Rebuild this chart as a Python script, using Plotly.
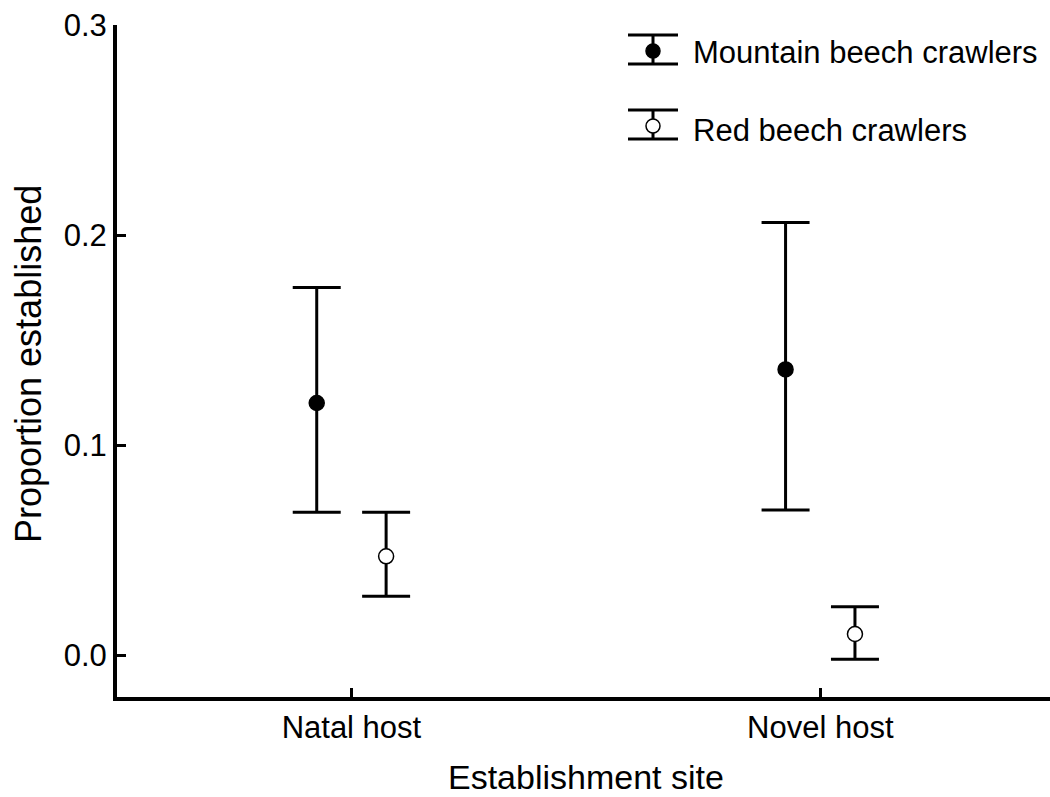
import plotly.graph_objects as go

# ---- data ----
sites = ["Natal host", "Novel host"]
mountain_mean = [0.120, 0.136]
mountain_upper = [0.175, 0.206]
mountain_lower = [0.068, 0.069]
red_mean = [0.047, 0.010]
red_upper = [0.068, 0.023]
red_lower = [0.028, -0.002]
series_names = ["Mountain beech crawlers", "Red beech crawlers"]
y_ticks = [0.0, 0.1, 0.2, 0.3]
x_title = "Establishment site"
y_title = "Proportion established"

FONT = "Arial, 'Liberation Sans', sans-serif"
OFFSET = 0.074
pos = list(range(len(sites)))

# plot-area geometry in pixels
W, H = 1050, 797
ML, MR, MT, MB = 117, 0, 25, 100
PW, PH = W - ML - MR, H - MT - MB

fig = go.Figure()

def add_series(mean, upper, lower, dx, fill, name):
    fig.add_trace(go.Scatter(
        x=[p + dx for p in pos], y=mean, mode="markers", name=name,
        marker=dict(size=15, color=fill, line=dict(color="black", width=1.5)),
        error_y=dict(type="data", symmetric=False,
                     array=[u - m for u, m in zip(upper, mean)],
                     arrayminus=[m - l for m, l in zip(mean, lower)],
                     color="black", thickness=3, width=24),
        showlegend=False,
    ))

add_series(mountain_mean, mountain_upper, mountain_lower, -OFFSET, "black", series_names[0])
add_series(red_mean, red_upper, red_lower, OFFSET, "white", series_names[1])

# ---- custom legend drawn on an overlay axis in pixel units ----
leg_x = 536
leg_items = [
    (series_names[0], "black", 26, 13, 16, 27),
    (series_names[1], "white", 101, 13, 16, 105),
]
for name, fill, yc, eplus, eminus, ty in leg_items:
    fig.add_trace(go.Scatter(
        x=[leg_x], y=[yc], mode="markers", xaxis="x2", yaxis="y2",
        marker=dict(size=14, color=fill, line=dict(color="black", width=1.5)),
        error_y=dict(type="data", symmetric=False, array=[eplus], arrayminus=[eminus],
                     color="black", thickness=3, width=25),
        showlegend=False, hoverinfo="skip",
    ))
    fig.add_annotation(x=leg_x + 38, y=ty, xref="x2", yref="y2", text=name,
                       showarrow=False, xanchor="left", yanchor="middle",
                       font=dict(family=FONT, size=31, color="black"))

# axis titles placed by pixel position
fig.add_annotation(x=(586 - ML) / PW, y=(H - MB - 777) / PH, xref="paper", yref="paper",
                   text=x_title, showarrow=False, xanchor="center", yanchor="middle",
                   font=dict(family=FONT, size=34, color="black"))
fig.add_annotation(x=(28 - ML) / PW, y=(H - MB - 364) / PH, xref="paper", yref="paper",
                   text=y_title, showarrow=False, textangle=-90,
                   xanchor="center", yanchor="middle",
                   font=dict(family=FONT, size=36, color="black"))

fig.update_layout(
    width=W, height=H,
    margin=dict(l=ML, r=MR, t=MT, b=MB),
    paper_bgcolor="white", plot_bgcolor="white",
    font=dict(family=FONT, color="black"),
    xaxis=dict(range=[-0.5, 1.49], tickvals=pos, ticktext=sites,
               showline=True, linecolor="black", linewidth=4,
               ticks="inside", ticklen=9, tickwidth=3, tickcolor="black",
               showgrid=False, zeroline=False, automargin=False,
               tickfont=dict(size=31, family=FONT)),
    yaxis=dict(range=[-0.02, 0.30], tickvals=y_ticks, tickformat=".1f",
               showline=True, linecolor="black", linewidth=4,
               ticks="inside", ticklen=9, tickwidth=3, tickcolor="black",
               showgrid=False, zeroline=False, automargin=False,
               tickfont=dict(size=31, family=FONT)),
    xaxis2=dict(overlaying="x", range=[0, PW], visible=False, fixedrange=True),
    yaxis2=dict(overlaying="y", range=[PH, 0], visible=False, fixedrange=True),
)

fig.write_html("out.html", config={"displayModeBar": False},
               post_script="document.body.style.margin='0';document.body.style.overflow='hidden';")
